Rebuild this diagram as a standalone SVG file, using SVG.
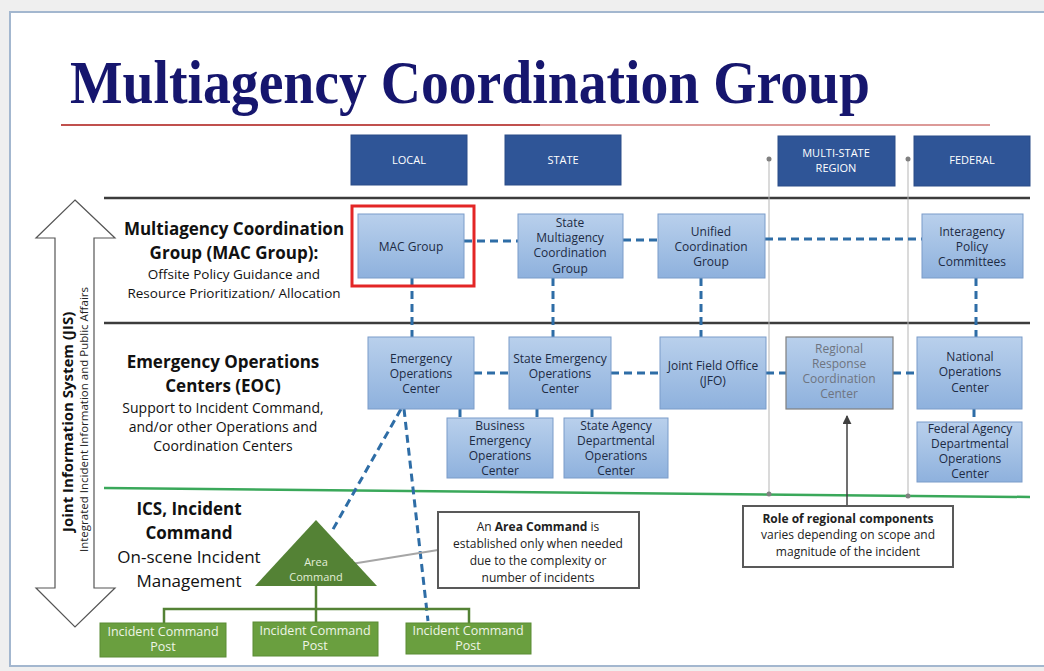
<svg xmlns="http://www.w3.org/2000/svg" width="1044" height="671" viewBox="0 0 1044 671">
<defs>
<style>
.hdr{fill:#2f5597;stroke:#2a4d88;stroke-width:1}
.hdrt{font-family:"Open Sans","Liberation Sans",sans-serif;font-size:11px;fill:#ffffff;text-anchor:middle}
.bx{fill:url(#bg);stroke:#7b9cc9;stroke-width:1}
.bxt{font-family:"Open Sans","Liberation Sans",sans-serif;font-size:12px;fill:#1d2b44;text-anchor:middle}
.rgt{font-family:"Open Sans","Liberation Sans",sans-serif;font-size:12px;fill:#6e7480;text-anchor:middle}
.gry{fill:#808080}
.lbl{font-family:"Open Sans","Liberation Sans",sans-serif;fill:#111;text-anchor:middle}
.dash{stroke:#2e6da6;stroke-width:3;stroke-dasharray:8 5;fill:none}
.sep{stroke:#3c3c3c;stroke-width:2.5}
.gl{stroke:#548235;stroke-width:2.5;fill:none}
.icp{fill:#6a9f3f;stroke:#5b8c34;stroke-width:1}
.icpt{font-family:"Open Sans","Liberation Sans",sans-serif;font-size:12.5px;fill:#eef5e6;text-anchor:middle}
.note{fill:#fff;stroke:#595959;stroke-width:2}
.nt{font-family:"Open Sans","Liberation Sans",sans-serif;font-size:12px;fill:#222;text-anchor:middle}
.vl{stroke:#b5b5b5;stroke-width:1}
</style>
<linearGradient id="bg" x1="0" y1="0" x2="0" y2="1">
<stop offset="0" stop-color="#b9d0ec"/>
<stop offset="1" stop-color="#8eb1dd"/>
</linearGradient>
<marker id="ga" viewBox="0 0 10 10" refX="9" refY="5" markerWidth="5" markerHeight="5" orient="auto">
<path d="M0,0 L10,5 L0,10 z" fill="#a6a6a6"/>
</marker>
<marker id="ka" viewBox="0 0 10 10" refX="9" refY="5" markerWidth="6" markerHeight="6" orient="auto">
<path d="M0,0 L10,5 L0,10 z" fill="#404040"/>
</marker>
</defs>

<rect x="0" y="0" width="1044" height="671" fill="#efefef"/>
<rect x="10" y="12" width="1040" height="654" fill="#ffffff" stroke="#a3b7cf" stroke-width="2"/>

<text x="70" y="103" font-family="'Liberation Serif',serif" font-weight="bold" font-size="62" fill="#16166e" textLength="800" lengthAdjust="spacingAndGlyphs">Multiagency Coordination Group</text>
<line x1="61" y1="125" x2="540" y2="125" stroke="#c0504d" stroke-width="2"/>
<line x1="540" y1="125" x2="990" y2="125" stroke="#dc9a98" stroke-width="2"/>

<g id="headers">
<g id="h-local"><rect class="hdr" x="351" y="135" width="116" height="50"/><text class="hdrt" x="409" y="164">LOCAL</text></g>
<g id="h-state"><rect class="hdr" x="505" y="135" width="116" height="50"/><text class="hdrt" x="563" y="164">STATE</text></g>
<g id="h-multi"><rect class="hdr" x="778" y="136" width="117" height="50"/><text class="hdrt" x="836" y="157">MULTI-STATE</text><text class="hdrt" x="836" y="172">REGION</text></g>
<g id="h-federal"><rect class="hdr" x="914" y="136" width="116" height="50"/><text class="hdrt" x="972" y="164">FEDERAL</text></g>
</g>

<g id="separators">
<line class="sep" x1="104" y1="198" x2="1030" y2="198"/>
<line class="sep" x1="104" y1="323" x2="1030" y2="323"/>
<line x1="104" y1="488" x2="1030" y2="497" stroke="#3aa85a" stroke-width="2.5"/>
<line class="vl" x1="769" y1="159" x2="769" y2="494"/>
<line class="vl" x1="908" y1="159" x2="908" y2="496"/>
<circle class="gry" cx="769" cy="159" r="2.5"/>
<circle class="gry" cx="908" cy="159" r="2.5"/>
<circle class="gry" cx="769" cy="494" r="2.5"/>
<circle class="gry" cx="908" cy="496" r="2.5"/>
</g>

<g id="jis">
<path d="M75,200 L115,238 L94,238 L94,588 L115,588 L75,627 L36,588 L55,588 L55,238 L36,238 Z" fill="#ffffff" stroke="#555" stroke-width="1.2"/>
<text transform="translate(73,532) rotate(-90)" font-family="'Open Sans','Liberation Sans',sans-serif" font-weight="bold" font-size="15" fill="#111">Joint Information System (JIS)</text>
<text transform="translate(88,552) rotate(-90)" font-family="'Open Sans','Liberation Sans',sans-serif" font-size="11.5" fill="#222">Integrated Incident Information and Public Affairs</text>
</g>

<g id="labels">
<text class="lbl" x="234" y="235" font-size="17" font-weight="bold">Multiagency Coordination</text>
<text class="lbl" x="234" y="259" font-size="17" font-weight="bold">Group (MAC Group):</text>
<text class="lbl" x="234" y="279" font-size="13.5">Offsite Policy Guidance and</text>
<text class="lbl" x="234" y="298" font-size="13.5">Resource Prioritization/ Allocation</text>
<text class="lbl" x="223" y="368" font-size="17" font-weight="bold">Emergency Operations</text>
<text class="lbl" x="223" y="392" font-size="17" font-weight="bold">Centers (EOC)</text>
<text class="lbl" x="223" y="413" font-size="14">Support to Incident Command,</text>
<text class="lbl" x="223" y="432" font-size="14">and/or other Operations and</text>
<text class="lbl" x="223" y="451" font-size="14">Coordination Centers</text>
<text class="lbl" x="189" y="515" font-size="17" font-weight="bold">ICS, Incident</text>
<text class="lbl" x="189" y="539" font-size="17" font-weight="bold">Command</text>
<text class="lbl" x="189" y="563" font-size="17">On-scene Incident</text>
<text class="lbl" x="189" y="587" font-size="17">Management</text>
</g>

<g id="connectors">
<line class="dash" x1="464" y1="241" x2="518" y2="241"/>
<line class="dash" x1="623" y1="240" x2="658" y2="240"/>
<line class="dash" x1="765" y1="239" x2="922" y2="239"/>
<line class="dash" x1="474" y1="373" x2="509" y2="373"/>
<line class="dash" x1="611" y1="373" x2="660" y2="373"/>
<line class="dash" x1="766" y1="373" x2="786" y2="373"/>
<line class="dash" x1="893" y1="373" x2="917" y2="373"/>
<line class="dash" x1="412" y1="278" x2="412" y2="337"/>
<line class="dash" x1="553" y1="278" x2="553" y2="337"/>
<line class="dash" x1="701" y1="278" x2="701" y2="337"/>
<line class="dash" x1="976" y1="278" x2="976" y2="337"/>
<line class="dash" x1="974" y1="409" x2="974" y2="422"/>
<line class="dash" x1="460" y1="409" x2="460" y2="418"/>
<line class="dash" x1="537" y1="409" x2="537" y2="418"/>
<line class="dash" x1="592" y1="409" x2="592" y2="418"/>
<line class="dash" x1="401" y1="409" x2="332" y2="531"/>
<line class="dash" x1="404" y1="409" x2="428" y2="621"/>
<polyline class="gl" points="316,586 316,609"/>
<polyline class="gl" points="164,623 164,609 469,609 469,623"/>
<line class="gl" x1="316" y1="609" x2="316" y2="622"/>
<line x1="438" y1="550" x2="345" y2="565" stroke="#a6a6a6" stroke-width="2" marker-end="url(#ga)"/>
<line x1="847" y1="506" x2="847" y2="416" stroke="#404040" stroke-width="1.5" marker-end="url(#ka)"/>
</g>

<g id="mac-group">
<rect class="bx" x="358" y="214" width="106" height="64"/>
<text class="bxt" x="411" y="251">MAC Group</text>
<rect x="352" y="206" width="122" height="80" fill="none" stroke="#e32626" stroke-width="3"/>
</g>
<g id="state-mac">
<rect class="bx" x="518" y="214" width="105" height="64"/>
<text class="bxt" x="570" y="227">State</text>
<text class="bxt" x="570" y="242">Multiagency</text>
<text class="bxt" x="570" y="257">Coordination</text>
<text class="bxt" x="570" y="273">Group</text>
</g>
<g id="unified">
<rect class="bx" x="658" y="214" width="107" height="64"/>
<text class="bxt" x="711" y="236">Unified</text>
<text class="bxt" x="711" y="251">Coordination</text>
<text class="bxt" x="711" y="266">Group</text>
</g>
<g id="interagency">
<rect class="bx" x="922" y="214" width="101" height="64"/>
<text class="bxt" x="972" y="236">Interagency</text>
<text class="bxt" x="972" y="251">Policy</text>
<text class="bxt" x="972" y="266">Committees</text>
</g>
<g id="eoc">
<rect class="bx" x="368" y="337" width="106" height="72"/>
<text class="bxt" x="421" y="363">Emergency</text>
<text class="bxt" x="421" y="378">Operations</text>
<text class="bxt" x="421" y="393">Center</text>
</g>
<g id="state-eoc">
<rect class="bx" x="509" y="337" width="102" height="72"/>
<text class="bxt" x="560" y="363">State Emergency</text>
<text class="bxt" x="560" y="378">Operations</text>
<text class="bxt" x="560" y="393">Center</text>
</g>
<g id="jfo">
<rect class="bx" x="660" y="337" width="106" height="72"/>
<text class="bxt" x="713" y="370">Joint Field Office</text>
<text class="bxt" x="713" y="385">(JFO)</text>
</g>
<g id="regional">
<rect x="786" y="337" width="107" height="72" fill="url(#bg)" stroke="#7f7f7f" stroke-width="1.2"/>
<text class="rgt" x="839" y="353">Regional</text>
<text class="rgt" x="839" y="368">Response</text>
<text class="rgt" x="839" y="383">Coordination</text>
<text class="rgt" x="839" y="398">Center</text>
</g>
<g id="national">
<rect class="bx" x="917" y="337" width="105" height="72"/>
<text class="bxt" x="970" y="361">National</text>
<text class="bxt" x="970" y="376">Operations</text>
<text class="bxt" x="970" y="392">Center</text>
</g>
<g id="business-eoc">
<rect class="bx" x="447" y="418" width="106" height="60"/>
<text class="bxt" x="500" y="430">Business</text>
<text class="bxt" x="500" y="445">Emergency</text>
<text class="bxt" x="500" y="460">Operations</text>
<text class="bxt" x="500" y="475">Center</text>
</g>
<g id="state-agency">
<rect class="bx" x="564" y="418" width="104" height="60"/>
<text class="bxt" x="616" y="430">State Agency</text>
<text class="bxt" x="616" y="445">Departmental</text>
<text class="bxt" x="616" y="460">Operations</text>
<text class="bxt" x="616" y="475">Center</text>
</g>
<g id="federal-agency">
<rect class="bx" x="917" y="422" width="105" height="60"/>
<text class="bxt" x="970" y="433">Federal Agency</text>
<text class="bxt" x="970" y="448">Departmental</text>
<text class="bxt" x="970" y="463">Operations</text>
<text class="bxt" x="970" y="478">Center</text>
</g>

<g id="area-command">
<polygon points="316,520 255,586 377,586" fill="#548235"/>
<text x="316" y="566" font-family="'Open Sans','Liberation Sans',sans-serif" font-size="11" fill="#e3eed8" text-anchor="middle">Area</text>
<text x="316" y="581" font-family="'Open Sans','Liberation Sans',sans-serif" font-size="11" fill="#e3eed8" text-anchor="middle">Command</text>
</g>
<g id="icp1"><rect class="icp" x="100" y="623" width="126" height="34"/><text class="icpt" x="163" y="636">Incident Command</text><text class="icpt" x="163" y="651">Post</text></g>
<g id="icp2"><rect class="icp" x="253" y="622" width="125" height="34"/><text class="icpt" x="315" y="635">Incident Command</text><text class="icpt" x="315" y="650">Post</text></g>
<g id="icp3"><rect class="icp" x="406" y="623" width="125" height="31"/><text class="icpt" x="468" y="635">Incident Command</text><text class="icpt" x="468" y="650">Post</text></g>

<g id="area-note">
<rect class="note" x="438" y="512" width="201" height="76"/>
<text class="nt" x="538" y="531">An <tspan font-weight="bold">Area Command</tspan> is</text>
<text class="nt" x="538" y="548">established only when needed</text>
<text class="nt" x="538" y="565">due to the complexity or</text>
<text class="nt" x="538" y="582">number of incidents</text>
</g>
<g id="role-note">
<rect class="note" x="743" y="506" width="210" height="61"/>
<text class="nt" x="848" y="523" font-weight="bold" font-size="11.5">Role of regional components</text>
<text class="nt" x="848" y="539">varies depending on scope and</text>
<text class="nt" x="848" y="556">magnitude of the incident</text>
</g>
</svg>
